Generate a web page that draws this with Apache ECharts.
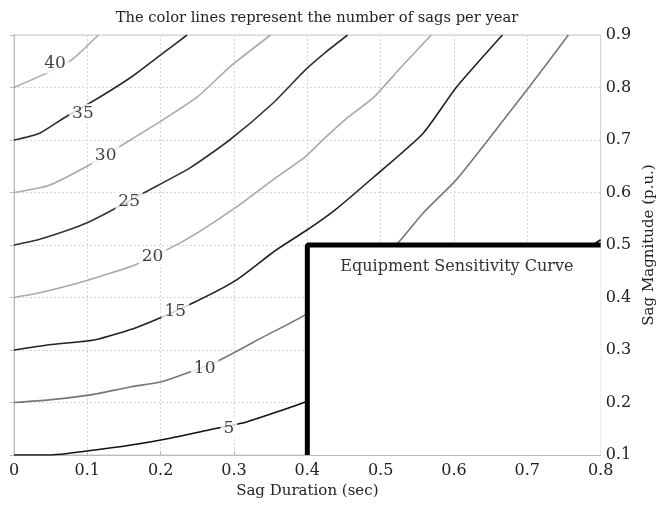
<!DOCTYPE html>
<head>
    <meta charset="utf-8">
    <title>sag contours</title>
    <script src="https://cdn.jsdelivr.net/npm/echarts@6/dist/echarts.min.js"></script>
</head>
<body style="margin:0">
    <div id="main" style="width:665px;height:508px"></div>
    <script type="text/javascript">
    // contour lines, [duration, magnitude] points
    var c5  = [[0,0.1],[0.048,0.1],[0.102,0.108],[0.16,0.119],[0.213,0.132],[0.267,0.148],[0.317,0.163],[0.397,0.201],[0.5,0.262],[0.6,0.335],[0.7,0.418],[0.8,0.51]];
    var c10 = [[0,0.2],[0.048,0.205],[0.102,0.214],[0.16,0.23],[0.2,0.239],[0.236,0.256],[0.281,0.281],[0.34,0.325],[0.397,0.367],[0.46,0.43],[0.521,0.5],[0.558,0.561],[0.603,0.624],[0.643,0.694],[0.702,0.8],[0.756,0.9]];
    var c15 = [[0,0.3],[0.048,0.31],[0.109,0.319],[0.169,0.344],[0.246,0.391],[0.303,0.433],[0.357,0.49],[0.4,0.529],[0.438,0.567],[0.491,0.63],[0.558,0.713],[0.603,0.8],[0.666,0.9]];
    var c20 = [[0,0.4],[0.035,0.409],[0.089,0.428],[0.133,0.447],[0.165,0.462],[0.213,0.494],[0.25,0.523],[0.303,0.572],[0.353,0.624],[0.397,0.668],[0.424,0.704],[0.451,0.738],[0.491,0.782],[0.528,0.839],[0.569,0.9]];
    var c25 = [[0,0.5],[0.035,0.511],[0.075,0.529],[0.102,0.544],[0.129,0.563],[0.178,0.6],[0.24,0.647],[0.294,0.7],[0.353,0.77],[0.397,0.833],[0.424,0.866],[0.455,0.9]];
    var c30 = [[0,0.6],[0.048,0.614],[0.102,0.652],[0.147,0.69],[0.196,0.732],[0.25,0.782],[0.294,0.839],[0.35,0.9]];
    var c35 = [[0,0.7],[0.035,0.713],[0.068,0.742],[0.115,0.78],[0.16,0.82],[0.196,0.858],[0.236,0.9]];
    var c40 = [[0,0.8],[0.039,0.824],[0.078,0.852],[0.115,0.9]];

    var levels = [5, 10, 15, 20, 25, 30, 35, 40];
    var contours = [c5, c10, c15, c20, c25, c30, c35, c40];
    var lineColors = ['#111', '#777', '#222', '#a8a8a8', '#333', '#aaa', '#2b2b2b', '#aaa'];

    // where the level numbers sit on the lines
    var labelPos = [[0.293,0.150],[0.26,0.264],[0.22,0.374],[0.189,0.477],[0.157,0.582],[0.125,0.67],[0.094,0.751],[0.056,0.845]];

    // equipment sensitivity curve
    var curveX = [0.4, 0.4, 0.8];
    var curveY = [0.1, 0.5, 0.5];

    var xTicks = ['0','0.1','0.2','0.3','0.4','0.5','0.6','0.7','0.8'];
    var yTicks = ['0.1','0.2','0.3','0.4','0.5','0.6','0.7','0.8','0.9'];

    var font = 'DejaVu Serif';
    var series = [];
    contours.forEach(function (c, i) {
        series.push({
            name: 'level ' + levels[i],
            type: 'line',
            data: c,
            smooth: 0.2,
            showSymbol: false,
            z: 2,
            lineStyle: {color: lineColors[i], width: 1.6}
        });
    });
    series.push({
        name: 'labels',
        type: 'scatter',
        symbolSize: 1,
        z: 3,
        itemStyle: {color: 'rgba(0,0,0,0)'},
        data: labelPos.map(function (p, i) { return [p[0], p[1], levels[i]]; }),
        label: {
            show: true,
            position: 'inside',
            formatter: function (p) { return p.value[2]; },
            fontFamily: font,
            fontSize: 17,
            color: '#111',
            backgroundColor: '#fff',
            padding: [1, 3]
        }
    });
    series.push({
        name: 'curve',
        type: 'line',
        data: curveX.map(function (x, i) { return [x, curveY[i]]; }),
        showSymbol: false,
        z: 10,
        lineStyle: {color: '#000', width: 5},
        markArea: {
            silent: true,
            z: 9,
            itemStyle: {color: '#fff'},
            label: {
                show: true,
                position: [33, 14],
                fontFamily: font,
                fontSize: 16,
                color: '#333'
            },
            data: [[
                {name: 'Equipment Sensitivity Curve', coord: [curveX[0], curveY[0]]},
                {coord: [curveX[2], curveY[1]]}
            ]]
        }
    });

    var myChart = echarts.init(document.getElementById('main'));
    myChart.setOption({
        animation: false,
        title: {
            text: 'The color lines represent the number of sags per year',
            left: 312,
            textAlign: 'center',
            top: 6,
            textStyle: {fontFamily: font, fontSize: 14.7, fontWeight: 'normal', color: '#222'}
        },
        grid: {left: 14, right: 55, top: 35, bottom: 53, show: true, borderColor: '#ccc', borderWidth: 1},
        xAxis: {
            type: 'value',
            min: 0, max: 0.8, interval: 0.1,
            name: 'Sag Duration (sec)',
            nameLocation: 'middle',
            nameGap: 25,
            nameTextStyle: {fontFamily: font, fontSize: 15, color: '#222'},
            axisLine: {lineStyle: {color: '#bbb'}},
            axisTick: {inside: true, length: 4, lineStyle: {color: '#bbb'}},
            axisLabel: {
                fontFamily: font, fontSize: 16, color: '#222', margin: 8,
                formatter: function (v) { return xTicks[Math.round(v * 10)]; }
            },
            splitLine: {lineStyle: {color: '#d6d6d6', type: [2, 2]}}
        },
        yAxis: {
            type: 'value',
            position: 'right',
            min: 0.1, max: 0.9, interval: 0.1,
            name: 'Sag Magnitude (p.u.)',
            nameLocation: 'middle',
            nameRotate: 90,
            nameGap: 40,
            nameTextStyle: {fontFamily: font, fontSize: 15, color: '#222'},
            axisLine: {show: true, lineStyle: {color: '#bbb'}},
            axisTick: {show: true, inside: true, length: 4, lineStyle: {color: '#bbb'}},
            axisLabel: {
                fontFamily: font, fontSize: 16, color: '#222', margin: 5,
                formatter: function (v) { return yTicks[Math.round(v * 10) - 1]; }
            },
            splitLine: {lineStyle: {color: '#d6d6d6', type: [2, 2]}}
        },
        series: series
    });
    </script>
</body>
